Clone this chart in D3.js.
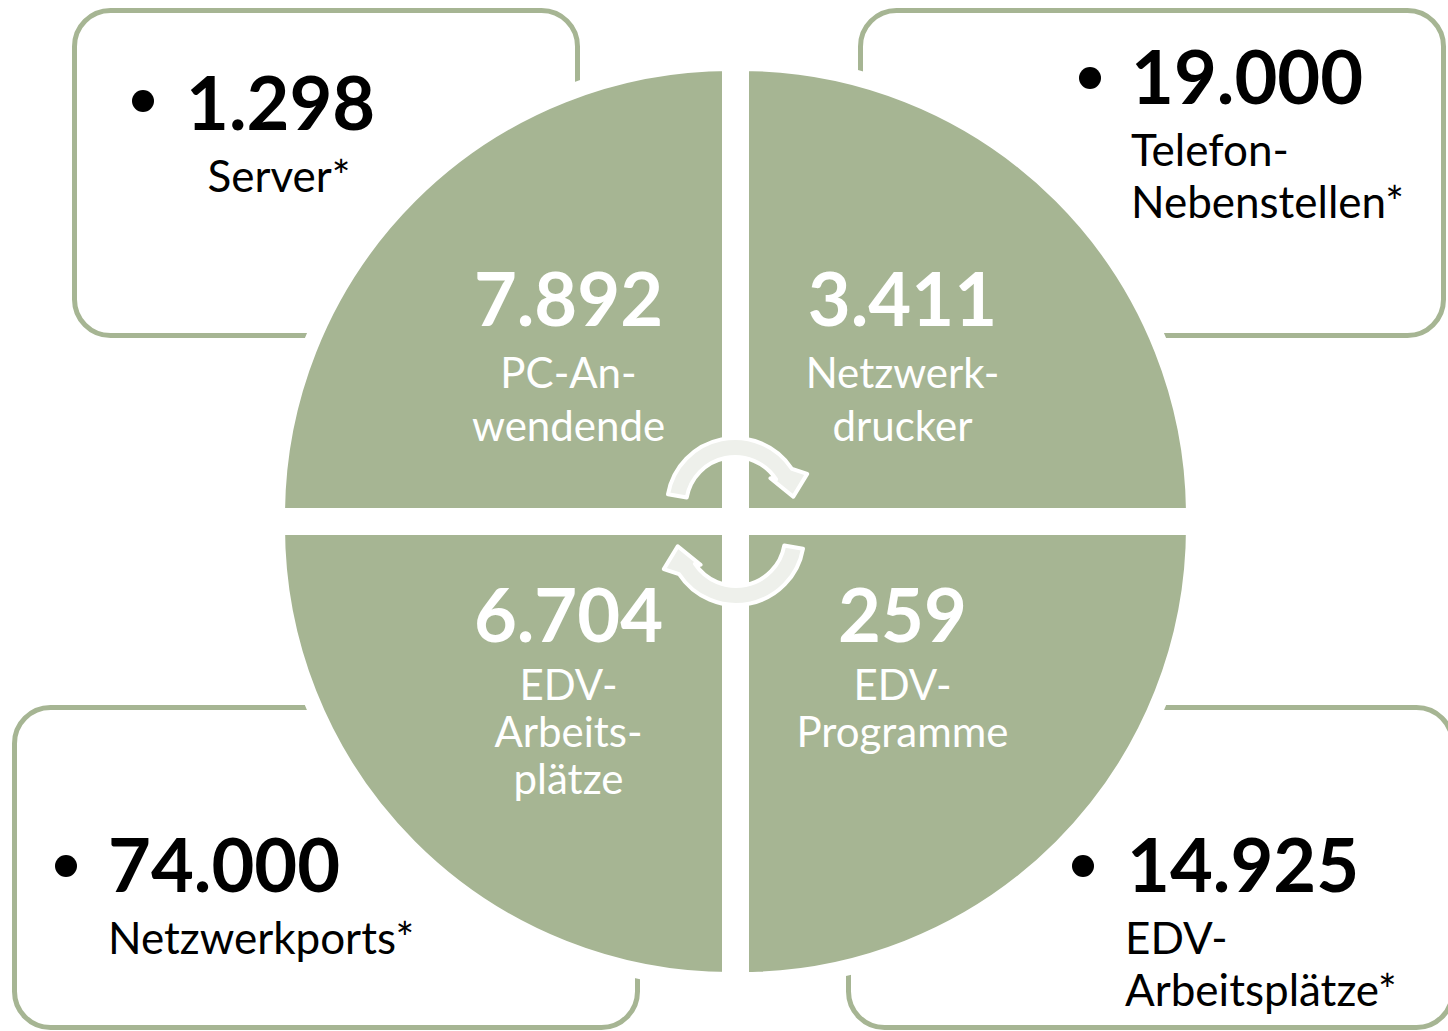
<!DOCTYPE html>
<html>
<head>
<meta charset="utf-8">
<script src="https://cdn.jsdelivr.net/npm/d3@7"></script>
<style>
  body { margin: 0; background: #fff; }
  svg { display: block; font-family: Lato, "Open Sans", sans-serif; }
</style>
</head>
<body>
<div id="chart"></div>
<script>
// inner circle: four equal quadrants, order TL, TR, BR, BL
const innerValues = ["7.892", "3.411", "259", "6.704"];
const innerLabels = [
  ["PC-An-", "wendende"],
  ["Netzwerk-", "drucker"],
  ["EDV-", "Programme"],
  ["EDV-", "Arbeits-", "plätze"]
];

// outer boxes, same order TL, TR, BR, BL
const outerValues = ["1.298", "19.000", "14.925", "74.000"];
const outerLabels = [
  ["Server*"],
  ["Telefon-", "Nebenstellen*"],
  ["EDV-", "Arbeitsplätze*"],
  ["Netzwerkports*"]
];

const width = 1448, height = 1031;
const green = "#a6b593";
const cx = 735.5, cy = 521.5;

// layout of the boxes and text (not data)
const boxes = [
  {x: 74.5, y: 10.5, w: 503, h: 325, bullet: [143, 101], num: [186, 130], anchor: "middle", lab: [279, 192], lh: 52},
  {x: 860.5, y: 10.5, w: 583, h: 325, bullet: [1090, 78], num: [1131, 104], anchor: "start", lab: [1131, 166], lh: 52},
  {x: 848.5, y: 707.5, w: 604, h: 320, bullet: [1083, 866], num: [1127, 892], anchor: "start", lab: [1125, 954], lh: 52},
  {x: 14.5, y: 707.5, w: 623, h: 320, bullet: [66, 866], num: [108, 892], anchor: "start", lab: [108, 954], lh: 52}
];
const innerText = [
  {x: -167, num: -196, lab: -134, lh: 53},
  {x: 167, num: -196, lab: -134, lh: 53},
  {x: 167, num: 120, lab: 178, lh: 47},
  {x: -167, num: 120, lab: 178, lh: 47}
];

const svg = d3.select("#chart").append("svg")
  .attr("width", width)
  .attr("height", height);

// boxes
const box = svg.append("g").selectAll("g")
  .data(outerValues)
  .join("g");

box.append("rect")
  .attr("x", (d, i) => boxes[i].x)
  .attr("y", (d, i) => boxes[i].y)
  .attr("width", (d, i) => boxes[i].w)
  .attr("height", (d, i) => boxes[i].h)
  .attr("rx", 36)
  .attr("fill", "#fff")
  .attr("stroke", green)
  .attr("stroke-width", 5);

// quadrants, white stroke gives the gaps and hides the box borders
const pie = d3.pie()
  .value(() => 1)
  .sort(null)
  .startAngle(-Math.PI / 2)
  .endAngle(Math.PI * 1.5);

const arc = d3.arc()
  .innerRadius(0)
  .outerRadius(453);

const slices = svg.append("g")
  .attr("transform", `translate(${cx},${cy})`)
  .selectAll("g")
  .data(pie(innerValues))
  .join("g");

slices.append("path")
  .attr("transform", d => {
    const a = (d.startAngle + d.endAngle) / 2;
    const off = 5.5 * Math.SQRT2;
    return `translate(${off * Math.sin(a)},${-off * Math.cos(a)})`;
  })
  .attr("d", arc)
  .attr("fill", green)
  .attr("stroke", "#fff")
  .attr("stroke-width", 16)
  .attr("stroke-linejoin", "miter");

slices.append("text")
  .attr("x", (d, i) => innerText[i].x)
  .attr("y", (d, i) => innerText[i].num)
  .attr("text-anchor", "middle")
  .attr("fill", "#fff")
  .attr("font-size", 74)
  .attr("font-weight", 700)
  .text(d => d.data);

slices.append("text")
  .attr("text-anchor", "middle")
  .attr("fill", "#fff")
  .attr("font-size", 42)
  .each(function(d, i) {
    d3.select(this).selectAll("tspan")
      .data(innerLabels[i])
      .join("tspan")
      .attr("x", innerText[i].x)
      .attr("y", (t, j) => innerText[i].lab + j * innerText[i].lh)
      .text(t => t);
  });

// box texts
box.append("circle")
  .attr("cx", (d, i) => boxes[i].bullet[0])
  .attr("cy", (d, i) => boxes[i].bullet[1])
  .attr("r", 11)
  .attr("fill", "#000");

box.append("text")
  .attr("x", (d, i) => boxes[i].num[0])
  .attr("y", (d, i) => boxes[i].num[1])
  .attr("font-size", 74)
  .attr("font-weight", 700)
  .attr("fill", "#000")
  .text(d => d);

box.append("text")
  .attr("text-anchor", (d, i) => boxes[i].anchor)
  .attr("font-size", 44)
  .attr("fill", "#000")
  .each(function(d, i) {
    d3.select(this).selectAll("tspan")
      .data(outerLabels[i])
      .join("tspan")
      .attr("x", boxes[i].lab[0])
      .attr("y", (t, j) => boxes[i].lab[1] + j * boxes[i].lh)
      .text(t => t);
  });

// the two circular arrows in the middle
const ac = {x: 735, y: 506};
function polar(r, deg) {
  const a = deg * Math.PI / 180;
  return [ac.x + r * Math.sin(a), ac.y - r * Math.cos(a)];
}
function arrowPath() {
  const ro = 68, ri = 49, a0 = -80, ae = 57;
  const p = d3.path();
  const rad = deg => (deg - 90) * Math.PI / 180;
  p.moveTo(...polar(ro, a0));
  p.arc(ac.x, ac.y, ro, rad(a0), rad(ae), false);
  p.lineTo(...polar(79, 66));
  p.lineTo(...polar(59, 81));
  p.lineTo(...polar(45, 52));
  p.lineTo(...polar(ri, ae));
  p.arc(ac.x, ac.y, ri, rad(ae), rad(a0), true);
  p.closePath();
  return p.toString();
}

svg.append("g").selectAll("path")
  .data([0, 180])
  .join("path")
  .attr("transform", d => `rotate(${d},${cx},${cy})`)
  .attr("d", arrowPath())
  .attr("fill", "#eef0eb")
  .attr("stroke", "#fff")
  .attr("stroke-width", 4)
  .attr("stroke-linejoin", "round");
</script>
</body>
</html>
